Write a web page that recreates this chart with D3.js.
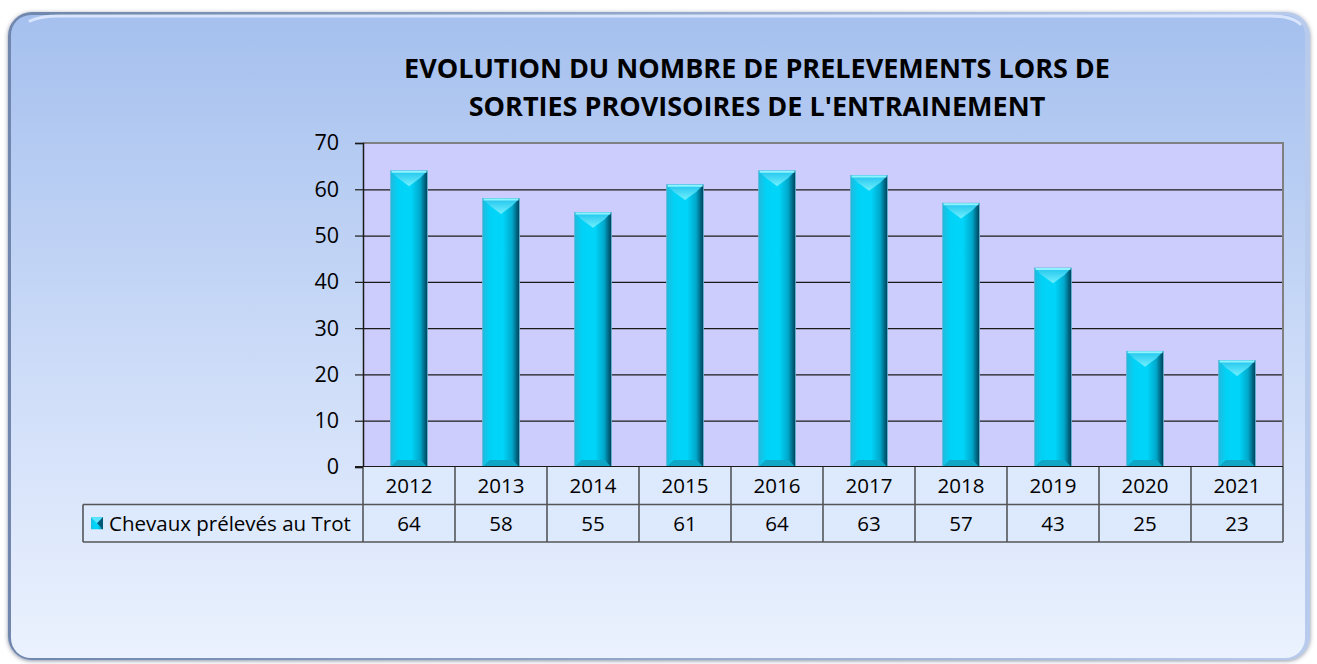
<!DOCTYPE html>
<html>
<head>
<meta charset="utf-8">
<script src="https://cdn.jsdelivr.net/npm/d3@7"></script>
<style>
  body { margin: 0; background: #ffffff; }
  text { font-family: "Open Sans", "Liberation Sans", sans-serif; fill: #000; }
</style>
</head>
<body>
<div id="chart"></div>
<script>
var years = ["2012", "2013", "2014", "2015", "2016", "2017", "2018", "2019", "2020", "2021"];
var values = [64, 58, 55, 61, 64, 63, 57, 43, 25, 23];
var seriesName = "Chevaux prélevés au Trot";
var yTicks = [0, 10, 20, 30, 40, 50, 60, 70];
var titleLines = ["EVOLUTION DU NOMBRE DE PRELEVEMENTS LORS DE", "SORTIES PROVISOIRES DE L'ENTRAINEMENT"];

var width = 1317, height = 664;
var plot = {left: 363, right: 1283, top: 143, bottom: 467};
var rowH = 37.5;
var legendLeft = 83;

var svg = d3.select("#chart").append("svg")
	.attr("width", width)
	.attr("height", height);

var defs = svg.append("defs");

var bg = defs.append("linearGradient").attr("id", "bg").attr("x1", 0).attr("y1", 0).attr("x2", 0).attr("y2", 1);
bg.append("stop").attr("offset", "0%").attr("stop-color", "#a5c0ee");
bg.append("stop").attr("offset", "55%").attr("stop-color", "#cddcf8");
bg.append("stop").attr("offset", "100%").attr("stop-color", "#ebf2fe");

var edge = defs.append("linearGradient").attr("id", "edge").attr("x1", 0).attr("y1", 0).attr("x2", 1).attr("y2", 0);
edge.append("stop").attr("offset", "0%").attr("stop-color", "#6f86ad");
edge.append("stop").attr("offset", "100%").attr("stop-color", "#b8cbed");

var barGrad = defs.append("linearGradient").attr("id", "barGrad").attr("x1", 0).attr("y1", 0).attr("x2", 1).attr("y2", 0);
barGrad.append("stop").attr("offset", "0%").attr("stop-color", "#22b9dc");
barGrad.append("stop").attr("offset", "20%").attr("stop-color", "#00d2f6");
barGrad.append("stop").attr("offset", "55%").attr("stop-color", "#00d6fa");
barGrad.append("stop").attr("offset", "80%").attr("stop-color", "#00a9cc");
barGrad.append("stop").attr("offset", "100%").attr("stop-color", "#003f58");

var topGrad = defs.append("linearGradient").attr("id", "topGrad").attr("x1", 0).attr("y1", 0).attr("x2", 0).attr("y2", 1);
topGrad.append("stop").attr("offset", "0%").attr("stop-color", "#20c4ec");
topGrad.append("stop").attr("offset", "100%").attr("stop-color", "#70f0ff");

var shadow = defs.append("filter").attr("id", "shadow").attr("x", "-5%").attr("y", "-5%").attr("width", "110%").attr("height", "110%");
shadow.append("feDropShadow").attr("dx", 0).attr("dy", 1).attr("stdDeviation", 2).attr("flood-color", "#3a4a66").attr("flood-opacity", 0.6);

// panel with bevelled edge
svg.append("rect")
	.attr("x", 8).attr("y", 12).attr("width", 1302).attr("height", 648)
	.attr("rx", 24)
	.attr("fill", "url(#edge)")
	.attr("filter", "url(#shadow)");
svg.append("rect")
	.attr("x", 11).attr("y", 15).attr("width", 1294).attr("height", 643)
	.attr("rx", 20)
	.attr("fill", "url(#bg)");
svg.append("path")
	.attr("d", "M30,21 Q40,16 60,16 L1270,16 Q1292,16 1300,24")
	.attr("fill", "none")
	.attr("stroke", "#e6eeff")
	.attr("stroke-width", 3)
	.attr("stroke-linecap", "round")
	.attr("opacity", 0.8);

// title
svg.selectAll(".title")
	.data(titleLines)
	.enter().append("text")
	.attr("class", "title")
	.attr("x", 757)
	.attr("y", function(d, i) { return 78 + i * 38; })
	.attr("text-anchor", "middle")
	.style("font-size", "27px")
	.style("font-weight", "bold")
	.text(function(d) { return d; });

var x = d3.scaleBand()
	.domain(years)
	.range([plot.left, plot.right])
	.paddingInner(0.6)
	.paddingOuter(0.3);

var xCell = d3.scaleBand()
	.domain(years)
	.range([plot.left, plot.right]);

var y = d3.scaleLinear()
	.domain([0, 70])
	.range([plot.bottom, plot.top]);

// plot area
svg.append("rect")
	.attr("x", plot.left).attr("y", plot.top)
	.attr("width", plot.right - plot.left)
	.attr("height", plot.bottom - plot.top)
	.attr("fill", "#cdcdfd");

// gridlines
svg.append("g")
	.attr("transform", "translate(" + plot.left + ",0)")
	.call(d3.axisLeft(y).tickValues(yTicks).tickSize(-(plot.right - plot.left)).tickFormat(""))
	.call(function(g) {
		g.select(".domain").remove();
		g.selectAll("line").attr("stroke", "#1a1a1a").attr("stroke-width", 1.2);
	});

// frame top and right
svg.append("path")
	.attr("d", "M" + plot.left + "," + plot.top + "H" + plot.right + "V" + plot.bottom)
	.attr("fill", "none")
	.attr("stroke", "#808080")
	.attr("stroke-width", 2);

// y axis
var yAxis = svg.append("g")
	.attr("transform", "translate(" + plot.left + ",0)")
	.call(d3.axisLeft(y).tickValues(yTicks).tickSize(8).tickPadding(16));
yAxis.select(".domain").attr("stroke", "#1a1a1a").attr("stroke-width", 1.5);
yAxis.selectAll("line").attr("stroke", "#1a1a1a").attr("stroke-width", 1.2);
yAxis.selectAll("text")
	.style("font-size", "21.5px")
	.style("font-family", "'Open Sans', sans-serif")
	.attr("fill", "#000");

// bars
var bev = 7;
var bars = svg.selectAll(".bar")
	.data(values)
	.enter().append("g")
	.attr("class", "bar");

bars.append("rect")
	.attr("x", function(d, i) { return x(years[i]); })
	.attr("y", function(d) { return y(d); })
	.attr("width", x.bandwidth())
	.attr("height", function(d) { return y(0) - y(d); })
	.attr("fill", "url(#barGrad)")
	.attr("stroke", "#5fb7d8")
	.attr("stroke-width", 0.8);

// top bevel (light V)
bars.append("path")
	.attr("d", function(d, i) {
		var x0 = x(years[i]), x1 = x0 + x.bandwidth(), t = y(d);
		return "M" + x0 + "," + t + "H" + x1 + "L" + (x1 - bev) + "," + (t + bev) +
			"L" + (x0 + x.bandwidth() / 2) + "," + (t + bev * 2.2) + "L" + (x0 + bev) + "," + (t + bev) + "Z";
	})
	.attr("fill", "url(#topGrad)");
bars.append("path")
	.attr("d", function(d, i) {
		var x0 = x(years[i]), x1 = x0 + x.bandwidth(), t = y(d);
		return "M" + (x0 + 1) + "," + (t + 1) + "H" + (x1 - 1);
	})
	.attr("stroke", "#8ff4ff")
	.attr("stroke-width", 2);

// bottom bevel
bars.append("path")
	.attr("d", function(d, i) {
		var x0 = x(years[i]), x1 = x0 + x.bandwidth(), b = y(0);
		return "M" + x0 + "," + b + "H" + x1 + "L" + (x1 - bev) + "," + (b - bev) + "H" + (x0 + bev) + "Z";
	})
	.attr("fill", "#10a6c6");

// x axis line
svg.append("line")
	.attr("x1", plot.left - 8).attr("x2", plot.right)
	.attr("y1", plot.bottom).attr("y2", plot.bottom)
	.attr("stroke", "#1a1a1a")
	.attr("stroke-width", 2);

// data table
var table = svg.append("g").attr("class", "table");
var r1 = plot.bottom, r2 = plot.bottom + rowH, r3 = plot.bottom + 2 * rowH;

table.append("rect")
	.attr("x", legendLeft).attr("y", r2)
	.attr("width", plot.left - legendLeft).attr("height", rowH)
	.attr("fill", "#dde9fc");
table.append("rect")
	.attr("x", plot.left).attr("y", r1)
	.attr("width", plot.right - plot.left).attr("height", 2 * rowH)
	.attr("fill", "#dde9fc");

// vertical cell lines
table.selectAll(".vline")
	.data(years.concat(["end"]))
	.enter().append("line")
	.attr("x1", function(d, i) { return i < years.length ? xCell(d) : plot.right; })
	.attr("x2", function(d, i) { return i < years.length ? xCell(d) : plot.right; })
	.attr("y1", r1).attr("y2", r3)
	.attr("stroke", "#333")
	.attr("stroke-width", 1.3);

table.append("line")
	.attr("x1", legendLeft).attr("x2", legendLeft)
	.attr("y1", r2).attr("y2", r3)
	.attr("stroke", "#333").attr("stroke-width", 1.3);

table.append("line")
	.attr("x1", legendLeft).attr("x2", plot.right)
	.attr("y1", r2).attr("y2", r2)
	.attr("stroke", "#555").attr("stroke-width", 1.5);
table.append("line")
	.attr("x1", legendLeft).attr("x2", plot.right)
	.attr("y1", r3).attr("y2", r3)
	.attr("stroke", "#555").attr("stroke-width", 1.5);

table.selectAll(".year")
	.data(years)
	.enter().append("text")
	.attr("x", function(d) { return xCell(d) + xCell.bandwidth() / 2; })
	.attr("y", r1 + rowH / 2 + 7.5)
	.attr("text-anchor", "middle")
	.style("font-size", "20.5px")
	.text(function(d) { return d; });

table.selectAll(".val")
	.data(values)
	.enter().append("text")
	.attr("x", function(d, i) { return xCell(years[i]) + xCell.bandwidth() / 2; })
	.attr("y", r2 + rowH / 2 + 7.5)
	.attr("text-anchor", "middle")
	.style("font-size", "20.5px")
	.text(function(d) { return d; });

// legend key
var kx = legendLeft + 8, ky = r2 + rowH / 2 - 6, ks = 12;
table.append("rect")
	.attr("x", kx).attr("y", ky).attr("width", ks).attr("height", ks)
	.attr("fill", "url(#barGrad)");
table.append("path")
	.attr("d", "M" + kx + "," + ky + "H" + (kx + ks) + "L" + (kx + ks / 2) + "," + (ky + ks / 2) + "Z")
	.attr("fill", "#5fe6ff");
table.append("path")
	.attr("d", "M" + (kx + ks) + "," + ky + "V" + (ky + ks) + "L" + (kx + ks / 2) + "," + (ky + ks / 2) + "Z")
	.attr("fill", "#005a78");

table.append("text")
	.attr("x", kx + ks + 6)
	.attr("y", r2 + rowH / 2 + 7.5)
	.style("font-size", "20.5px")
	.text(seriesName);
</script>
</body>
</html>
